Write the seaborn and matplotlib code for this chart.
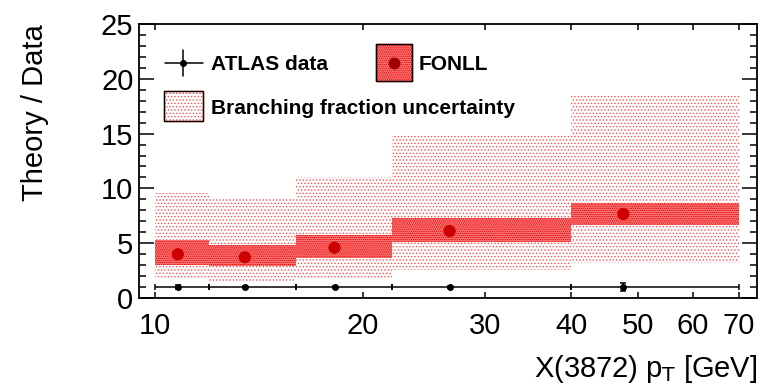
import numpy as np
import pandas as pd
import matplotlib
matplotlib.use("Agg")
import matplotlib.pyplot as plt
import seaborn as sns
from matplotlib.patches import Rectangle
from matplotlib.lines import Line2D
from matplotlib.ticker import FixedLocator, FixedFormatter, MultipleLocator, NullLocator

# X(3872) pT bins and theory/data ratios
bin_edges = [10, 12, 16, 22, 40, 70]
pt_centers = [10.8, 13.5, 18.2, 26.7, 47.6]
data_ratio = [1.0, 1.0, 1.0, 1.0, 1.0]
data_err = [0.2, 0.1, 0.1, 0.1, 0.35]
fonll_ratio = [3.99, 3.71, 4.59, 6.11, 7.66]
fonll_low = [3.01, 2.95, 3.68, 5.14, 6.66]
fonll_high = [5.29, 4.84, 5.75, 7.33, 8.70]
bf_low = [1.73, 1.58, 1.80, 2.55, 3.22]
bf_high = [9.61, 9.03, 11.01, 14.81, 18.43]
x_ticks = [10, 20, 30, 40, 50, 60, 70]
x_tick_labels = ["10", "20", "30", "40", "50", "60", "70"]

sns.set_theme(style="ticks")
plt.rcParams["font.family"] = ["Liberation Sans", "DejaVu Sans"]
plt.rcParams["mathtext.default"] = "regular"
plt.rcParams["hatch.linewidth"] = 0.6
plt.rcParams["text.color"] = "black"
plt.rcParams["axes.labelcolor"] = "black"

LIGHT_HATCH = dict(facecolor="white", hatch=".....", edgecolor="#ff5050")
DARK_HATCH = dict(facecolor="#ff7474", hatch="........", edgecolor="#dd0000")

edges = np.array(bin_edges, dtype=float)
widths = np.diff(edges)
lefts = edges[:-1]

fig = plt.figure(figsize=(7.65, 3.85), dpi=100)
ax = fig.add_axes([139 / 765, 1 - 298 / 385, 618 / 765, 274 / 385])

# branching fraction uncertainty band
ax.bar(lefts, np.array(bf_high) - np.array(bf_low), width=widths, bottom=bf_low,
       align="edge", linewidth=0, zorder=1, **LIGHT_HATCH)
# FONLL uncertainty band
ax.bar(lefts, np.array(fonll_high) - np.array(fonll_low), width=widths, bottom=fonll_low,
       align="edge", linewidth=0, zorder=2, **DARK_HATCH)

# FONLL central values
sns.scatterplot(x=pt_centers, y=fonll_ratio, ax=ax, s=78, color="#cc0000",
                edgecolor="none", zorder=3, legend=False)

# ATLAS data (ratio = 1)
xerr = np.array([np.array(pt_centers) - lefts, edges[1:] - np.array(pt_centers)])
ax.errorbar(pt_centers, data_ratio, xerr=xerr, yerr=data_err, fmt="o", color="black",
            markersize=4.0, elinewidth=1.1, capsize=2.3, capthick=1.1, zorder=4)

ax.set_xscale("log")
ax.set_xlim(9.49, 74.3)
ax.set_ylim(0, 25)

ax.xaxis.set_major_locator(FixedLocator(x_ticks))
ax.xaxis.set_major_formatter(FixedFormatter(x_tick_labels))
ax.xaxis.set_minor_locator(NullLocator())
ax.yaxis.set_major_locator(MultipleLocator(5))
ax.yaxis.set_minor_locator(MultipleLocator(1))

for side in ["top", "right", "bottom", "left"]:
    ax.spines[side].set_linewidth(1.3)
    ax.spines[side].set_color("black")

ax.tick_params(axis="y", which="major", direction="in", length=11, width=1.1,
               left=True, right=True, labelsize=21, pad=4, colors="black")
ax.tick_params(axis="y", which="minor", direction="in", length=5.2, width=1.1,
               left=True, right=True, colors="black")
ax.tick_params(axis="x", which="major", direction="in", length=4.5, width=1.1,
               bottom=True, top=True, labelsize=21, pad=10, colors="black")

ax.set_xlabel(r"X(3872) p$_{\mathrm{T}}$ [GeV]", fontsize=21, loc="right", color="black")
ax.set_ylabel("Theory / Data", fontsize=21, loc="top", color="black")
ax.xaxis.set_label_coords(1.0, -0.2)
ax.yaxis.set_label_coords(-0.145, 1.0)

# legend, drawn in axes-fraction coordinates
def px(x, y):
    return ((x - 139) / 618, (298 - y) / 274)

tr = ax.transAxes
legend_kw = dict(transform=tr, fontsize=15, fontweight="bold", va="center",
                 ha="left", color="black")

# ATLAS data entry
x0, y0 = px(165, 63)
x1, _ = px(203, 63)
xc, _ = px(183, 63)
_, yt = px(183, 50)
_, yb = px(183, 76)
ax.add_line(Line2D([x0, x1], [y0, y0], transform=tr, color="black", lw=1.1, clip_on=False))
ax.add_line(Line2D([xc, xc], [yb, yt], transform=tr, color="black", lw=1.1, clip_on=False))
ax.add_line(Line2D([xc], [y0], transform=tr, marker="o", markersize=4.0, color="black",
                   clip_on=False))
tx, ty = px(211, 64)
ax.text(tx, ty, "ATLAS data", **legend_kw)

# FONLL entry
bx0, by0 = px(376, 81)
bx1, by1 = px(412, 44)
ax.add_patch(Rectangle((bx0, by0), bx1 - bx0, by1 - by0, transform=tr, linewidth=1.0,
                       facecolor=DARK_HATCH["facecolor"], hatch=DARK_HATCH["hatch"],
                       edgecolor=DARK_HATCH["edgecolor"], clip_on=False, zorder=5))
ax.add_patch(Rectangle((bx0, by0), bx1 - bx0, by1 - by0, transform=tr, linewidth=1.0,
                       facecolor="none", edgecolor="black", clip_on=False, zorder=6))
mx, my = px(394, 62.5)
ax.add_line(Line2D([mx], [my], transform=tr, marker="o", markersize=8.6, color="#a00000",
                   markeredgewidth=0, clip_on=False, zorder=7))
tx, ty = px(419, 64)
ax.text(tx, ty, "FONLL", **legend_kw)

# branching fraction entry
bx0, by0 = px(164, 121)
bx1, by1 = px(203, 91)
ax.add_patch(Rectangle((bx0, by0), bx1 - bx0, by1 - by0, transform=tr, linewidth=1.0,
                       facecolor=LIGHT_HATCH["facecolor"], hatch=LIGHT_HATCH["hatch"],
                       edgecolor=LIGHT_HATCH["edgecolor"], clip_on=False, zorder=5))
ax.add_patch(Rectangle((bx0, by0), bx1 - bx0, by1 - by0, transform=tr, linewidth=1.0,
                       facecolor="none", edgecolor="black", clip_on=False, zorder=6))
tx, ty = px(211, 108)
ax.text(tx, ty, "Branching fraction uncertainty", **legend_kw)

fig.savefig("out.png", dpi=100)
